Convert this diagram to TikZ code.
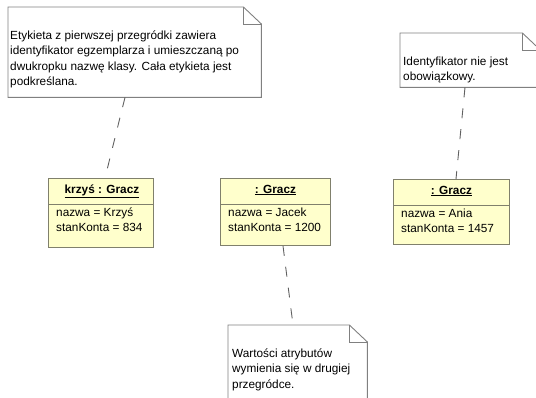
\documentclass[tikz,border=0pt]{standalone}
\usepackage{fontspec}
\setmainfont{Liberation Sans}
\usetikzlibrary{calc}
\definecolor{objfill}{HTML}{FFFFCC}
\definecolor{objline}{HTML}{80806C}
\definecolor{noteline}{HTML}{808080}
\definecolor{connline}{HTML}{606060}
\begin{document}
\begin{tikzpicture}[x=1pt,y=-1pt,
  notearea/.style={draw=none,inner sep=0pt,anchor=north west,minimum width=#1},
  noteshape/.style={draw=noteline,fill=white,line width=0.9pt},
  notetext/.style={inner sep=0pt,anchor=base west,align=left,font=\fontsize{11.8}{15.5}\selectfont},
  objbox/.style={draw=objline,fill=objfill,line width=0.9pt,inner sep=0pt,anchor=north west},
  objtitle/.style={inner sep=0pt,anchor=base,font=\fontsize{11.8}{15.5}\selectfont\bfseries},
  objattr/.style={inner sep=0pt,anchor=base west,align=left,font=\fontsize{11.8}{15.5}\selectfont},
  conn/.style={draw=connline,line width=0.9pt,dash pattern=on 10pt off 11pt}
]
\useasboundingbox (0,0) rectangle (536,397);

% ---- notes ----
\node[notearea=253pt,minimum height=90pt] (n1) at (8,7) {};
\node[notearea=140pt,minimum height=54pt] (n2) at (400,33) {};
\node[notearea=139pt,minimum height=90pt] (n3) at (228,325) {};

\foreach \n in {n1,n2,n3}{
  \draw[noteshape] (\n.north west) -- ([xshift=-18pt]\n.north east)
     -- ([yshift=-17pt]\n.north east) -- (\n.south east) -- (\n.south west) -- cycle;
  \draw[noteshape,fill=none] ([xshift=-18pt]\n.north east)
     -- ([xshift=-18pt,yshift=-17pt]\n.north east) -- ([yshift=-17pt]\n.north east);
}

% base anchor of a multi-line node = baseline of its last line
\node[notetext] (n1t) at ([xshift=2pt,yshift=-78.5pt]n1.north west)
  {Etykieta z pierwszej przegródki zawiera\\identyfikator egzemplarza i umieszczaną po\\dwukropku nazwę klasy. Cała etykieta jest\\podkreślana.};
\node[notetext] (n2t) at ([xshift=3pt,yshift=-47.5pt]n2.north west)
  {Identyfikator nie jest\\obowiązkowy.};
\node[notetext] (n3t) at ([xshift=4pt,yshift=-63pt]n3.north west)
  {Wartości atrybutów\\wymienia się w drugiej\\przegródce.};

% ---- objects ----
\node[objbox,minimum width=105pt,minimum height=69pt] (b1) at (48,178) {};
\node[objbox,minimum width=110pt,minimum height=67pt] (b2) at (220,178) {};
\node[objbox,minimum width=116pt,minimum height=65pt] (b3) at (393,179) {};

\foreach \b in {b1,b2,b3}{
  \draw[draw=objline,line width=0.9pt] ([yshift=-26pt]\b.north west) -- ([yshift=-26pt]\b.north east);
}

\node[objtitle] (b1t) at ([xshift=1pt,yshift=-15pt]b1.north) {\underline{krzyś : Gracz}};
\node[objtitle] (b2t) at ([yshift=-15pt]b2.north) {\underline{: Gracz}};
\node[objtitle] (b3t) at ([yshift=-15pt]b3.north) {\underline{: Gracz}};

\node[objattr] (b1a) at ([xshift=8pt,yshift=-53.5pt]b1.north west) {nazwa = Krzyś\\stanKonta = 834};
\node[objattr] (b2a) at ([xshift=8pt,yshift=-53.5pt]b2.north west) {nazwa = Jacek\\stanKonta = 1200};
\node[objattr] (b3a) at ([xshift=8pt,yshift=-53.5pt]b3.north west) {nazwa = Ania\\stanKonta = 1457};

% ---- connectors ----
\draw[conn] ([xshift=117pt]n1.south west) -- ([xshift=57pt]b1.north west);
\draw[conn] ([xshift=63pt]b2.south west) -- ([xshift=65pt]n3.north west);
\draw[conn] ([xshift=65pt]n2.south west) -- ([xshift=63pt]b3.north west);
\end{tikzpicture}
\end{document}
